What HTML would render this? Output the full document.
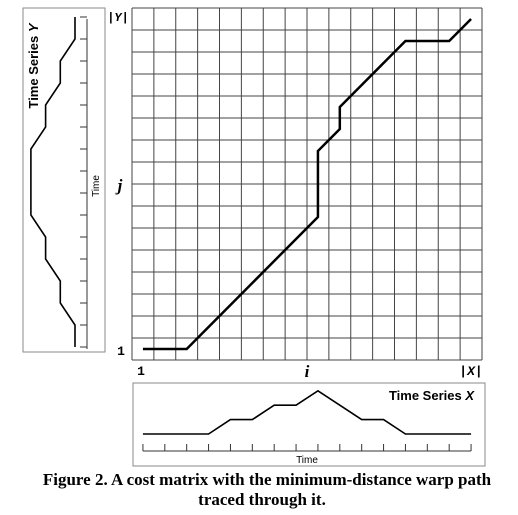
<!DOCTYPE html>
<html><head><meta charset="utf-8"><style>
html,body{margin:0;padding:0;background:#fff;}
svg{display:block;}
text{font-family:"Liberation Sans",sans-serif;}
.serif{font-family:"Liberation Serif",serif;font-weight:bold;}
.mono{font-family:"Liberation Mono",monospace;font-weight:bold;}
</style></head><body>
<svg id="fig" width="518" height="515" viewBox="0 0 518 515">
<g id="grid"></g>
<g id="ybox">
<rect x="23" y="8" width="82" height="344" fill="none" stroke="#888" stroke-width="1"/>
<text transform="translate(38,66) rotate(-90)" text-anchor="middle" font-size="13" font-weight="bold">Time Series <tspan font-style="italic">Y</tspan></text>
<text transform="translate(99,186) rotate(-90)" text-anchor="middle" font-size="10">Time</text>
</g>
<g id="xbox">
<rect x="133" y="383" width="352" height="83" fill="none" stroke="#888" stroke-width="1"/>
<text x="474" y="400" text-anchor="end" font-size="13" font-weight="bold">Time Series <tspan font-style="italic">X</tspan></text>
<text x="307" y="463" text-anchor="middle" font-size="10">Time</text>
</g>
<text class="mono" x="118" y="21" text-anchor="middle" font-size="12">|<tspan font-style="italic">Y</tspan>|</text>
<text class="serif" x="120" y="191" text-anchor="middle" font-size="17" font-style="italic">j</text>
<text class="mono" x="121" y="355" text-anchor="middle" font-size="13">1</text>
<text class="mono" x="141" y="375" text-anchor="middle" font-size="13">1</text>
<text class="serif" x="307" y="377" text-anchor="middle" font-size="17" font-style="italic">i</text>
<text class="mono" x="471" y="375" text-anchor="middle" font-size="13">|<tspan font-style="italic">X</tspan>|</text>
<text class="serif" x="267" y="485" text-anchor="middle" font-size="17">Figure 2. A cost matrix with the minimum-distance warp path</text>
<text class="serif" x="262" y="505" text-anchor="middle" font-size="17">traced through it.</text>
</svg>
<script>
const pathI = [1,2,3,4,5,6,7,8,9,9,9,9,10,10,11,12,13,14,15,16];
const pathJ = [1,1,1,2,3,4,5,6,7,8,9,10,11,12,13,14,15,15,15,16];
const seriesX = [0,0,0,0,2,2,4,4,6,4,2,2,0,0,0,0];
const seriesY = [0,0,1,1,2,2,3,3,3,3,2,2,1,1,0,0]; // j = 1..16
const N = 16;
const NS = 'http://www.w3.org/2000/svg';
const svg = document.getElementById('fig');
const gx0 = 132, gx1 = 482, gy0 = 8, gy1 = 360;
const cw = (gx1-gx0)/N, ch = (gy1-gy0)/N;
const xi = i => gx0 + cw*(i-0.5);
const yj = j => gy1 - ch*(j-0.5);
function mk(tag, attrs, parent){const e=document.createElementNS(NS,tag);for(const k in attrs)e.setAttribute(k,attrs[k]);(parent||svg).appendChild(e);return e;}
const grid = document.getElementById('grid');
for(let k=0;k<=N;k++){
  const v = mk('line',{x1:gx0+cw*k,y1:gy0,x2:gx0+cw*k,y2:gy1,stroke:'#444','stroke-width':1},grid);
  
  
  const h = mk('line',{x1:gx0,y1:gy0+ch*k,x2:gx1,y2:gy0+ch*k,stroke:'#444','stroke-width':1},grid);
  
  
}
const wp = mk('polyline',{points:pathI.map((v,k)=>xi(v)+','+yj(pathJ[k])).join(' '),fill:'none',stroke:'#000','stroke-width':2.5,'stroke-linejoin':'miter'});


const xb = 434, xs = 7.2;
const xax = mk('line',{x1:xi(1),y1:451,x2:xi(N),y2:451,stroke:'#333','stroke-width':1});


for(let i=1;i<=N;i++){
  const t=mk('line',{x1:xi(i),y1:444,x2:xi(i),y2:451,stroke:'#333','stroke-width':1});
  
  
}
const xl = mk('polyline',{points:seriesX.map((v,k)=>xi(k+1)+','+(xb-v*xs)).join(' '),fill:'none',stroke:'#000','stroke-width':1.6});


const yb = 75, ys = 14.7;
const yax = mk('line',{x1:87,y1:yj(N),x2:87,y2:yj(1),stroke:'#333','stroke-width':1});


for(let j=1;j<=N;j++){
  const t=mk('line',{x1:80,y1:yj(j)-2,x2:87,y2:yj(j)-2,stroke:'#333','stroke-width':1});
  
  
}
const yl = mk('polyline',{points:seriesY.map((v,k)=>(yb-v*ys)+','+(yj(k+1)-2)).join(' '),fill:'none',stroke:'#000','stroke-width':1.6});


</script>
</body></html>
